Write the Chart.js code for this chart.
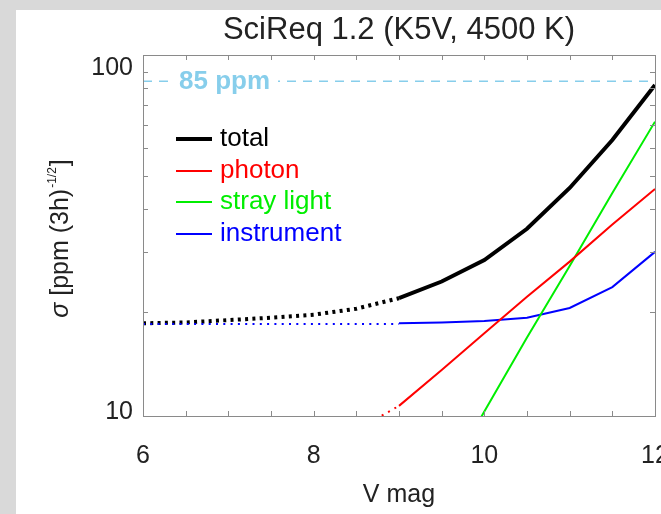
<!DOCTYPE html>
<html>
<head>
<meta charset="utf-8">
<script src="https://cdn.jsdelivr.net/npm/chart.js@4.4.1/dist/chart.umd.min.js"></script>
<style>
  html, body { margin: 0; padding: 0; background: #d9d9d9; }
  #wrap { position: absolute; left: 0; top: 0; width: 661px; height: 514px; }
</style>
</head>
<body>
<div id="wrap"><canvas id="chart" width="661" height="514"></canvas></div>
<script>
/* ===================================================
   SciReq 1.2 (K5V, 4500 K) — noise budget vs V mag
   =================================================== */

// --- Data ---
const magFaint = [9, 9.5, 10, 10.5, 11, 11.5, 12];      // solid part
const magBright = [6, 6.5, 7, 7.5, 8, 8.5, 9];          // dotted part

const totalSolid = [22.0, 24.6, 28.4, 35.0, 46.0, 63.4, 91.7];
const totalDotted = [18.6, 18.7, 19.0, 19.3, 19.7, 20.5, 22.0];

const photonSolid = [10.7, 13.6, 17.4, 22.2, 28.1, 36.0, 45.7];
const photonDottedMag = [8.5, 9];
const photonDotted = [9.1, 10.7];

const strayMag = [9.5, 10, 10.5, 11, 11.5, 12];
const straySolid = [6.3, 10.3, 16.9, 27.3, 44.5, 71.7];

const instrSolid = [18.6, 18.7, 18.9, 19.3, 20.6, 23.7, 30.0];
const instrDotted = [18.5, 18.5, 18.5, 18.5, 18.5, 18.5, 18.5];

const refLevel = 94;            // where the dashed requirement line sits
const refLabel = "85 ppm";

const legendLabels = ["total", "photon", "stray light", "instrument"];

const xTickLabels = [6, 8, 10, 12];
const xMinorTicks = [6.5, 7, 7.5, 8, 8.5, 9, 9.5, 10, 10.5, 11, 11.5];
const yTickValues = [10, 20, 30, 40, 50, 60, 70, 80, 90, 100];
const yTickLabels = ["10", "", "", "", "", "", "", "", "", "100"];

// --- Styling ---
const FONT = "'Liberation Sans', Arial, Helvetica, sans-serif";
const TEXT = "#222222";
const AXIS = "#8a8a8a";

function pts(xs, ys) {
    return xs.map(function (x, i) { return { x: x, y: ys[i] }; });
}

function line(data, color, width, dash, legend) {
    return {
        data: data,
        borderColor: color,
        backgroundColor: color,
        borderWidth: width,
        borderDash: dash || [],
        borderCapStyle: "butt",
        pointRadius: 0,
        tension: 0,
        clip: 0,
        legendLabel: legend || null,
    };
}

// ===================================================
// Plugin: frame, inward ticks, labels, legend
// ===================================================
const decorations = {
    id: "decorations",
    beforeDraw: function (chart) {
        const ctx = chart.ctx;
        ctx.save();
        ctx.fillStyle = "#d9d9d9";
        ctx.fillRect(0, 0, chart.width, chart.height);
        ctx.fillStyle = "#ffffff";
        ctx.fillRect(16, 10, chart.width - 16, chart.height - 10);
        ctx.restore();
    },
    afterDatasetsDraw: function (chart) {
        const ctx = chart.ctx;
        const a = chart.chartArea;
        const xs = chart.scales.x;
        const ys = chart.scales.y;

        ctx.save();

        // requirement label with white box over the dashed line
        const ry = ys.getPixelForValue(refLevel);
        ctx.font = "bold 26px " + FONT;
        const lw = ctx.measureText(refLabel).width;
        ctx.fillStyle = "#ffffff";
        ctx.fillRect(168, ry - 10, lw + 19, 20);
        ctx.fillStyle = "#87ceeb";
        ctx.textAlign = "left";
        ctx.textBaseline = "middle";
        ctx.fillText(refLabel, 179, ry + 1);

        // frame
        ctx.strokeStyle = AXIS;
        ctx.lineWidth = 1;
        ctx.strokeRect(Math.round(a.left) + 0.5, Math.round(a.top) + 0.5,
            Math.round(a.right - a.left), Math.round(a.bottom - a.top));

        // inward ticks
        const tl = 5;
        ctx.beginPath();
        xTickLabels.concat(xMinorTicks).forEach(function (v) {
            const px = Math.round(xs.getPixelForValue(v)) + 0.5;
            ctx.moveTo(px, a.bottom); ctx.lineTo(px, a.bottom - tl);
            ctx.moveTo(px, a.top); ctx.lineTo(px, a.top + tl);
        });
        yTickValues.forEach(function (v) {
            const py = Math.round(ys.getPixelForValue(v)) + 0.5;
            ctx.moveTo(a.left, py); ctx.lineTo(a.left + tl, py);
            ctx.moveTo(a.right, py); ctx.lineTo(a.right - tl, py);
        });
        ctx.stroke();

        // legend
        const rows = [139, 171, 202, 234];
        ctx.font = "26px " + FONT;
        ctx.textBaseline = "middle";
        chart.data.datasets.filter(function (d) { return d.legendLabel; })
            .forEach(function (d, i) {
                ctx.strokeStyle = d.borderColor;
                ctx.lineWidth = d.borderWidth;
                ctx.setLineDash([]);
                ctx.beginPath();
                ctx.moveTo(176, rows[i]);
                ctx.lineTo(212, rows[i]);
                ctx.stroke();
                ctx.fillStyle = d.borderColor;
                ctx.fillText(d.legendLabel, 220, rows[i]);
            });

        // chart title
        ctx.fillStyle = TEXT;
        ctx.font = "31px " + FONT;
        ctx.textAlign = "center";
        ctx.textBaseline = "alphabetic";
        ctx.fillText("SciReq 1.2 (K5V, 4500 K)", (a.left + a.right) / 2, 39);

        // x title
        ctx.font = "25px " + FONT;
        ctx.fillText("V mag", (a.left + a.right) / 2, 502);

        // y title, rotated, with superscript
        const cy = (a.top + a.bottom) / 2 + 3;
        ctx.translate(68, cy);
        ctx.rotate(-Math.PI / 2);
        const p1 = "\u03C3";
        const p2 = " [ppm (3h)";
        const p3 = "-1/2";
        const p4 = "]";
        ctx.font = "italic 25px " + FONT;
        const w1 = ctx.measureText(p1).width;
        ctx.font = "25px " + FONT;
        const w2 = ctx.measureText(p2).width;
        const w4 = ctx.measureText(p4).width;
        ctx.font = "12px " + FONT;
        const w3 = ctx.measureText(p3).width;
        let x0 = -(w1 + w2 + w3 + w4 + 2) / 2;
        ctx.textAlign = "left";
        ctx.font = "italic 25px " + FONT;
        ctx.fillText(p1, x0, 0); x0 += w1;
        ctx.font = "25px " + FONT;
        ctx.fillText(p2, x0, 0); x0 += w2 + 1;
        ctx.font = "12px " + FONT;
        ctx.fillText(p3, x0, -12); x0 += w3 + 1;
        ctx.font = "25px " + FONT;
        ctx.fillText(p4, x0, 0);

        ctx.restore();
    },
};

// ===================================================
// Chart
// ===================================================
const ctx = document.getElementById("chart").getContext("2d");

new Chart(ctx, {
    type: "line",
    data: {
        datasets: [
            line(pts(magBright, instrDotted), "#0000ff", 2, [2, 5.3]),
            line(pts(photonDottedMag, photonDotted), "#ff0000", 2, [2, 5.3]),
            line(pts(magBright, totalDotted), "#000000", 4, [3, 4.3]),
            line(pts([6, 12], [refLevel, refLevel]), "#87ceeb", 1.5, [9, 7]),
            line(pts(magFaint, totalSolid), "#000000", 4, null, legendLabels[0]),
            line(pts(magFaint, photonSolid), "#ff0000", 2, null, legendLabels[1]),
            line(pts(strayMag, straySolid), "#00ee00", 2, null, legendLabels[2]),
            line(pts(magFaint, instrSolid), "#0000ff", 2, null, legendLabels[3]),
        ],
    },
    options: {
        responsive: false,
        animation: false,
        events: [],
        layout: { padding: { left: 16, top: 55, right: 6, bottom: 0 } },
        plugins: {
            legend: { display: false },
            tooltip: { enabled: false },
            title: { display: false },
        },
        scales: {
            x: {
                type: "linear",
                min: 6,
                max: 12,
                grid: { display: false },
                border: { display: false },
                afterBuildTicks: function (s) {
                    s.ticks = xTickLabels.map(function (v) { return { value: v }; });
                },
                afterFit: function (s) {
                    s.height = 98;
                    s.paddingLeft = 0;
                    s.paddingRight = 0;
                },
                ticks: {
                    autoSkip: false,
                    maxRotation: 0,
                    padding: 17,
                    color: TEXT,
                    font: { family: FONT, size: 25 },
                },
            },
            y: {
                type: "logarithmic",
                min: 10,
                max: 112,
                grid: { display: false },
                border: { display: false },
                afterBuildTicks: function (s) {
                    s.ticks = yTickValues.map(function (v) { return { value: v }; });
                },
                afterFit: function (s) {
                    s.width = 127;
                    s.paddingTop = 0;
                    s.paddingBottom = 0;
                },
                ticks: {
                    autoSkip: false,
                    padding: 2,
                    labelOffset: -4,
                    color: TEXT,
                    font: { family: FONT, size: 25 },
                    callback: function (value, index) {
                        return yTickLabels[index];
                    },
                },
            },
        },
    },
    plugins: [decorations],
});
</script>
</body>
</html>
